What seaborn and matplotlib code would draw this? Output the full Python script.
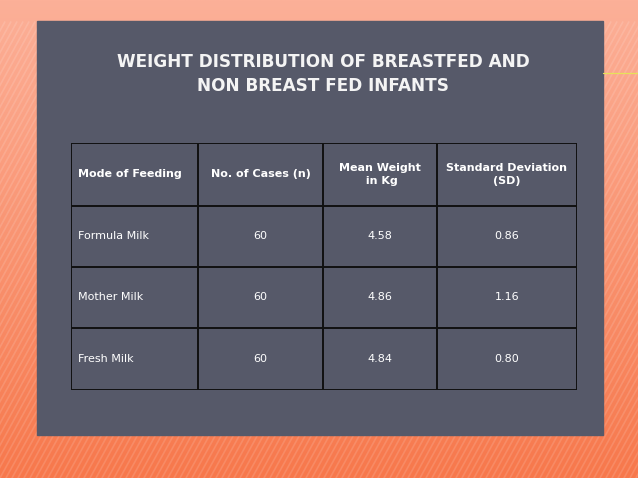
import numpy as np
import matplotlib
matplotlib.use("Agg")
import matplotlib.pyplot as plt
import seaborn as sns
from matplotlib.patches import Rectangle

sns.set_style("white")
plt.rcParams['font.family'] = ['DejaVu Sans']

# data
title = "WEIGHT DISTRIBUTION OF BREASTFED AND\nNON BREAST FED INFANTS"
headers = ["Mode of Feeding", "No. of Cases (n)", "Mean Weight\n in Kg", "Standard Deviation\n(SD)"]
feeding = ["Formula Milk", "Mother Milk", "Fresh Milk"]
cases = [60, 60, 60]
mean_weight = ["4.58", "4.86", "4.84"]
std_dev = ["0.86", "1.16", "0.80"]

col_widths = [127, 125, 114, 140]
row_heights = [63, 61, 61, 62]

W, H = 638, 478
fig = plt.figure(figsize=(W / 100, H / 100), dpi=100)

# background: orange gradient with thin steep stripes
bg = fig.add_axes([0, 0, 1, 1])
top = np.array([252, 176, 152]) / 255
bottom = np.array([247, 120, 76]) / 255
t = np.linspace(0, 1, 200)[:, None]
grad = top * (1 - t[..., None]) + bottom * t[..., None]
grad = np.repeat(grad, 2, axis=1)
bg.imshow(grad, aspect='auto', extent=[0, W, H, 0])
for sx in np.arange(-300, W + 300, 6):
    bg.plot([sx, sx + 0.55 * (H - 22)], [H, 22], color='white', alpha=0.13, lw=1.2)
bg.plot([603, W], [73, 73], color='#e6e25a', lw=0.9, zorder=4)
# dark panel
bg.add_patch(Rectangle((37, 21), 566, 414, color='#565969', zorder=3))
bg.set_xlim(0, W)
bg.set_ylim(H, 0)
bg.axis('off')

bg.text(323, 74, title, ha='center', va='center', color='#f4f4f4',
        fontsize=12.2, fontweight='bold', linespacing=1.4, zorder=5)

# table
x0, y0 = 71, 143
ax = fig.add_axes([x0 / W, 1 - (y0 + sum(row_heights)) / H,
                   sum(col_widths) / W, sum(row_heights) / H])
ax.set_zorder(5)
ax.patch.set_alpha(0)
xs = np.concatenate([[0], np.cumsum(col_widths)])
ys = np.concatenate([[0], np.cumsum(row_heights)])
ax.set_xlim(0, xs[-1])
ax.set_ylim(ys[-1], 0)
ax.axis('off')
ax.vlines(xs, 0, ys[-1], color='#111111', lw=1.4)
ax.hlines(ys, 0, xs[-1], color='#111111', lw=1.4)

rows = [headers] + [[f, str(c), m, s] for f, c, m, s in zip(feeding, cases, mean_weight, std_dev)]
for r, row in enumerate(rows):
    yc = (ys[r] + ys[r + 1]) / 2
    for c, val in enumerate(row):
        bold = r == 0
        if c == 0:
            ax.text(xs[0] + 7, yc, val, ha='left', va='center', color='white',
                    fontsize=8, fontweight='bold' if bold else 'normal')
        else:
            ax.text((xs[c] + xs[c + 1]) / 2, yc, val,
                    ha='center', va='center', color='white', fontsize=8,
                    fontweight='bold' if bold else 'normal', linespacing=1.3)

fig.savefig("out.png", dpi=100)
